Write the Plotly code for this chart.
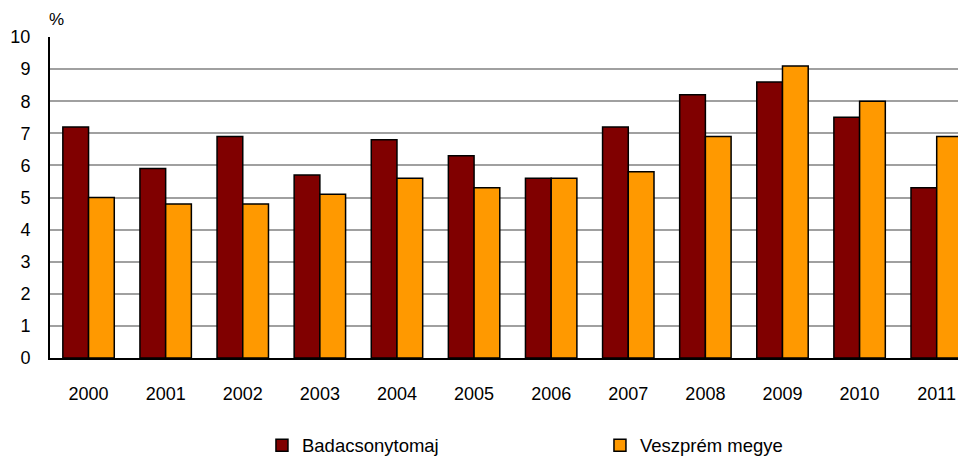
import plotly.graph_objects as go

years = ["2000", "2001", "2002", "2003", "2004", "2005", "2006", "2007", "2008", "2009", "2010", "2011"]
badacsonytomaj = [7.2, 5.9, 6.9, 5.7, 6.8, 6.3, 5.6, 7.2, 8.2, 8.6, 7.5, 5.3]
veszprem = [5.0, 4.8, 4.8, 5.1, 5.6, 5.3, 5.6, 5.8, 6.9, 9.1, 8.0, 6.9]
y_ticks = [0, 1, 2, 3, 4, 5, 6, 7, 8, 9, 10]

font = "Liberation Sans, Arial, sans-serif"

fig = go.Figure()
fig.add_trace(go.Bar(x=years, y=badacsonytomaj, name="Badacsonytomaj",
                     marker=dict(color="#800000", line=dict(color="#000000", width=1.5))))
fig.add_trace(go.Bar(x=years, y=veszprem, name="Veszprém megye",
                     marker=dict(color="#FF9900", line=dict(color="#000000", width=1.5))))

# page body has an 8px default margin, so the figure is sized/offset to compensate
fig.update_layout(
    width=958, height=449,
    margin=dict(l=42, r=0, t=29, b=99, autoexpand=False),
    paper_bgcolor="white", plot_bgcolor="white",
    barmode="group", bargap=0.333, bargroupgap=0,
    font=dict(family=font, size=18, color="#000000"),
    showlegend=True,
    legend=dict(orientation="h", x=0.2314, xanchor="left", y=-0.214, yanchor="top",
                entrywidth=293, entrywidthmode="pixels",
                font=dict(family=font, size=18.5), traceorder="normal",
                bgcolor="rgba(0,0,0,0)"),
    xaxis=dict(type="category", range=[-0.5, 11.38], showgrid=False, automargin=False,
               showline=True, linecolor="#000000", linewidth=2,
               ticks="", ticklabelstandoff=18, tickfont=dict(size=18)),
    yaxis=dict(range=[0, 10], tickvals=y_ticks, showgrid=True, gridcolor="#a0a0a0", gridwidth=2,
               automargin=False,
               showline=True, linecolor="#000000", linewidth=2, zeroline=False,
               ticks="", ticklabelstandoff=14, tickfont=dict(size=18)),
    annotations=[dict(text="%", xref="paper", yref="paper", x=0, y=1, xanchor="left",
                      yanchor="bottom", xshift=-3, yshift=6, showarrow=False,
                      font=dict(family=font, size=17))],
)

fig.write_html("out.html")
